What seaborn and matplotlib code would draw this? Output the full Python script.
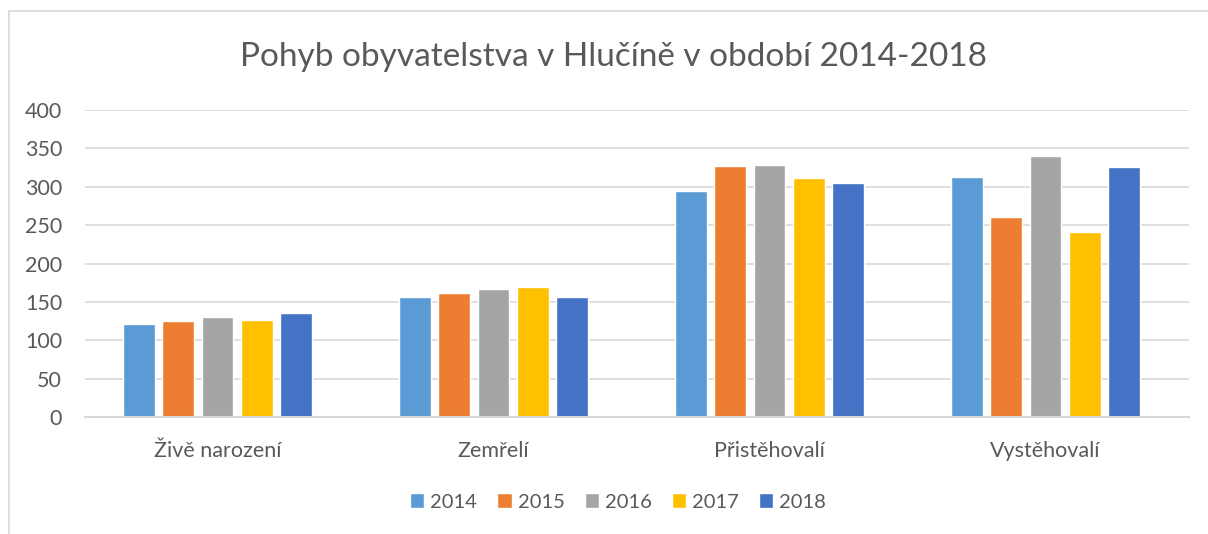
import pandas as pd
import matplotlib.pyplot as plt
import seaborn as sns
from matplotlib.lines import Line2D

categories = ['Živě narození', 'Zemřelí', 'Přistěhovalí', 'Vystěhovalí']
years = ['2014', '2015', '2016', '2017', '2018']
v2014 = [121, 157, 295, 313]
v2015 = [125, 161, 327, 260]
v2016 = [130, 167, 328, 340]
v2017 = [126, 170, 312, 241]
v2018 = [135, 157, 305, 326]
colors = ['#5B9BD5', '#ED7D31', '#A5A5A5', '#FFC000', '#4472C4']

rows = []
for year, vals in zip(years, [v2014, v2015, v2016, v2017, v2018]):
    for cat, v in zip(categories, vals):
        rows.append({'kategorie': cat, 'rok': year, 'hodnota': v})
df = pd.DataFrame(rows)

sns.set_style('white')
plt.rcParams['font.family'] = ['Lato', 'DejaVu Sans']
text_col = '#595959'

fig = plt.figure(figsize=(12.08, 5.34), dpi=100)
ax = fig.add_axes([85 / 1208, 1 - 417 / 534, (1189 - 85) / 1208, (417 - 110) / 534])

sns.barplot(data=df, x='kategorie', y='hodnota', hue='rok', order=categories,
            hue_order=years, palette=colors, width=0.71, gap=0.19,
            saturation=1, ax=ax)

ax.set_ylim(0, 400)
ax.set_yticks(range(0, 401, 50))
ax.set_xlim(-0.48, 3.52)
ax.yaxis.grid(True, color='#D9D9D9', linewidth=1.2)
ax.set_axisbelow(True)
for s in ['top', 'right', 'left']:
    ax.spines[s].set_visible(False)
ax.spines['bottom'].set_color('#D9D9D9')
ax.spines['bottom'].set_linewidth(1.5)
ax.tick_params(axis='both', length=0, labelsize=15.5, colors=text_col)
ax.tick_params(axis='x', pad=17)
ax.tick_params(axis='y', pad=16.5)
ax.set_xlabel('')
ax.set_ylabel('')

fig.text(614 / 1208, 1 - 57 / 534, 'Pohyb obyvatelstva v Hlučíně v období 2014-2018',
         ha='center', va='center', fontsize=24, color=text_col)

ax.legend(loc='center', bbox_to_anchor=(618 / 1208, 1 - 502 / 534), bbox_transform=fig.transFigure,
          ncol=5, frameon=False, fontsize=14.5, labelcolor=text_col,
          handlelength=0.7, handleheight=0.7, handletextpad=0.3, columnspacing=1.0)

# rámeček grafu (vlevo a nahoře)
fig.add_artist(Line2D([9 / 1208, 9 / 1208], [0, 1 - 11 / 534], transform=fig.transFigure,
                      color='#D9D9D9', linewidth=1.2))
fig.add_artist(Line2D([9 / 1208, 1], [1 - 11 / 534, 1 - 11 / 534], transform=fig.transFigure,
                      color='#D9D9D9', linewidth=1.2))

fig.savefig('out.png', dpi=100)
